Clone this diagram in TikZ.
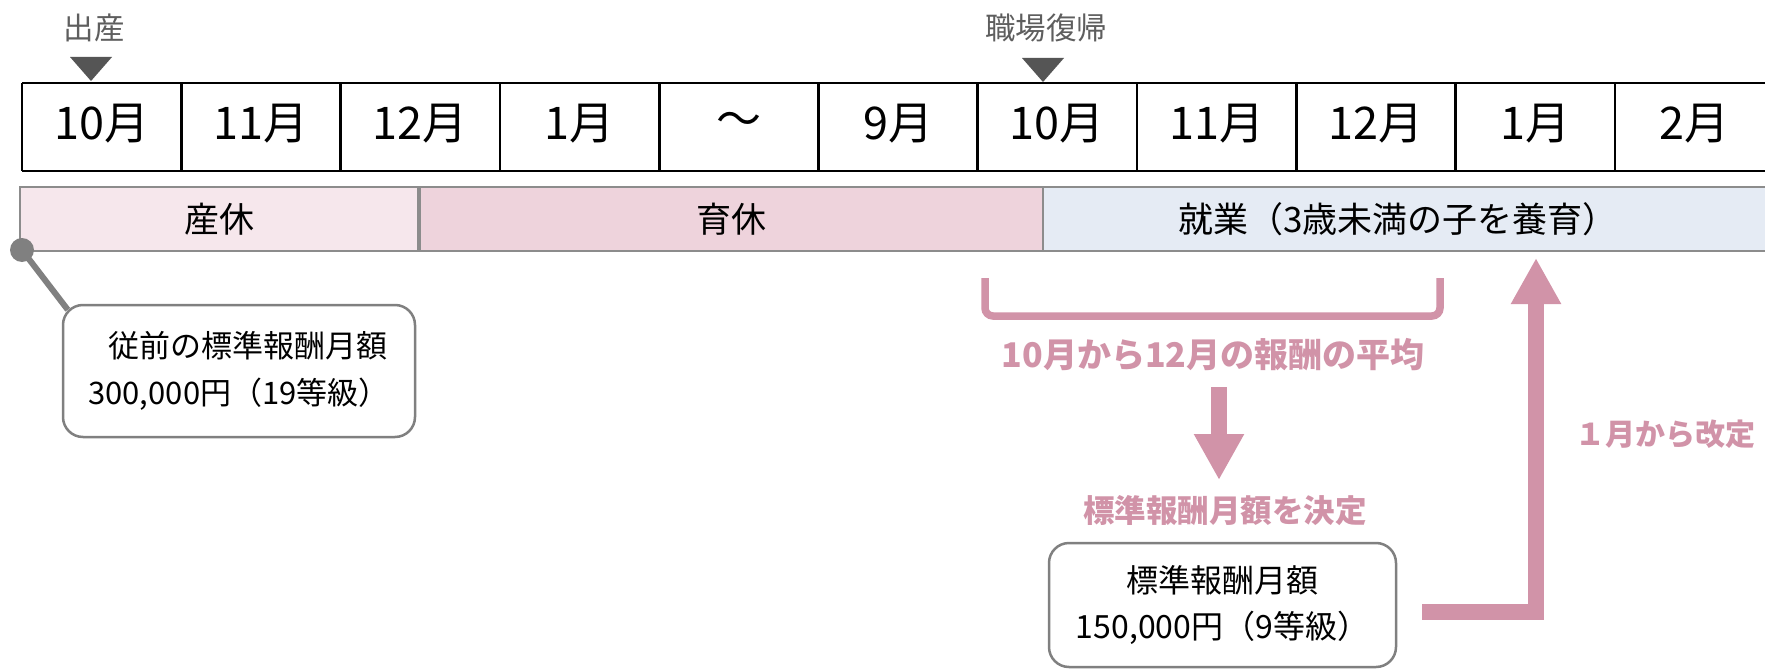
\documentclass[tikz,border=0pt]{standalone}
\usepackage{fontspec}
\setmainfont{Noto Sans CJK JP}
\usetikzlibrary{arrows.meta,calc}
\definecolor{pk}{HTML}{D193A8}
\definecolor{bandA}{HTML}{F6E7EC}
\definecolor{bandB}{HTML}{EED3DC}
\definecolor{bandC}{HTML}{E5EBF4}
\definecolor{bandline}{HTML}{8C8C8C}
\definecolor{callgray}{HTML}{808080}
\definecolor{lblgray}{HTML}{5E5E5E}
\definecolor{trigray}{HTML}{555555}
\tikzset{
  month/.style={font=\fontsize{45}{52}\selectfont, inner sep=0pt},
  toplbl/.style={font=\fontsize{30.5}{36}\selectfont, text=lblgray, inner sep=0pt},
  tri/.style={fill=trigray},
  band/.style={draw=bandline, line width=1.5pt, minimum height=64pt, inner sep=0pt, font=\fontsize{35}{40}\selectfont},
  callbox/.style={draw=callgray, line width=2.5pt, fill=white, rounded corners=20pt, inner sep=0pt, align=center},
  pinkt/.style={text=pk, inner sep=0pt},
  fat/.style={draw=pk, line width=16pt, -{Triangle[width=47pt,length=46pt]}},
}
\begin{document}
\begin{tikzpicture}[x=1pt,y=-1pt]
\useasboundingbox (0,0) rectangle (1765,669);
\fill[white] (0,0) rectangle (1765,669);
% timeline grid
\draw[line width=2.7pt] (22,83) -- (1775,83);
\draw[line width=2.7pt] (22,171) -- (1775,171);
\foreach \i in {0,...,10} \draw[line width=2.7pt] ({22+159.3*\i},83) -- ({22+159.3*\i},171);
\foreach \m [count=\i from 0] in {10月,11月,12月,1月,～,9月,10月,11月,12月,1月,2月}
  \node[month] (m\i) at ({22+159.3*\i+79.65},124) {\m};
% top labels
\node[toplbl] (birth) at (94,28) {出産};
\fill[tri] (70,57) -- (112,57) -- (91,81) -- cycle;
\node[toplbl] (ret) at (1046,28) {職場復帰};
\fill[tri] (1022,58) -- (1064,58) -- (1043,82) -- cycle;
% bands
\node[band, fill=bandA, minimum width=398pt] (sankyu) at (219,219) {産休};
\node[band, fill=bandB, minimum width=623pt] (ikukyu) at (731.5,219) {育休};
\node[band, fill=bandC, minimum width=732pt] (shugyo) at (1409,219) {};
\node[font=\fontsize{35}{40}\selectfont, inner sep=0pt] (shugyotxt) at (1398,219) {就業（3歳未満の子を養育）};
% previous callout
\node[callbox, minimum width=352pt, minimum height=132pt, font=\fontsize{31}{47}\selectfont] (prev) at (239,371) {\hspace*{17pt}従前の標準報酬月額\\300,000円（19等級）};
\node[circle, fill=callgray, inner sep=0pt, minimum size=24pt] (dot) at (22,250) {};
\draw[callgray, line width=6pt] (dot.center) -- ($(prev.north west)+(6,6)$);
% bracket
\draw[pk, line width=7.5pt, rounded corners=8pt] (985,278) -- (985,316) -- (1440,316) -- (1440,278);
\node[pinkt, font=\bfseries\fontsize{34}{40}\selectfont] (avg) at (1213,355) {10月から12月の報酬の平均};
\coordinate (d0) at (1219,387);
\coordinate (d1) at (1219,480);
\draw[fat] (d0) -- (d1);
\node[pinkt, font=\bfseries\fontsize{31.5}{38}\selectfont] (dec) at (1225,511) {標準報酬月額を決定};
% new callout
\node[callbox, minimum width=347pt, minimum height=124pt, font=\fontsize{32}{46}\selectfont] (newbox) at (1222.5,605) {標準報酬月額\\150,000円（9等級）};
% L arrow
\coordinate (l0) at (1422,612);
\coordinate (l1) at (1536,258);
\draw[fat] (l0) -| (l1);
\node[pinkt, font=\bfseries\fontsize{30}{36}\selectfont] (rev) at (1665,434) {１月から改定};
\end{tikzpicture}
\end{document}
